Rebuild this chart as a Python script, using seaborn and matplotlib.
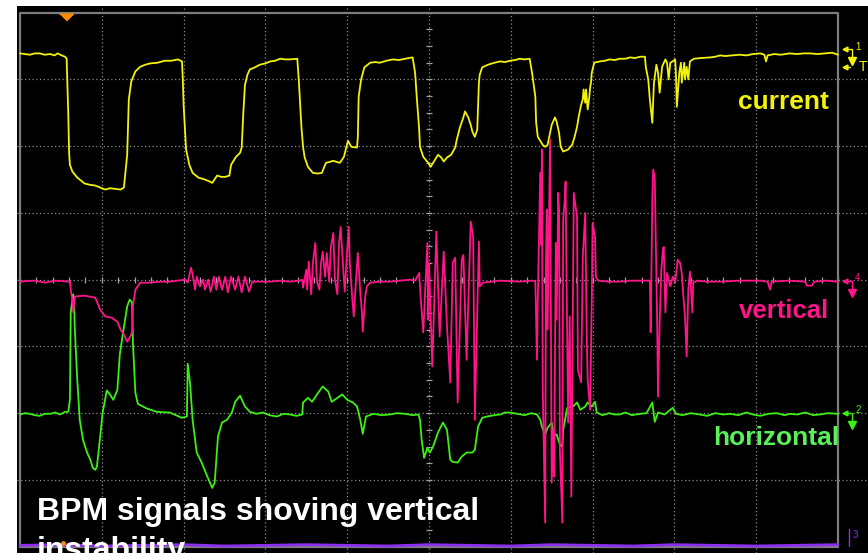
import matplotlib
matplotlib.use('Agg')
import matplotlib.pyplot as plt
import pandas as pd
import seaborn as sns

# scope screen units: time in divisions (0..10), amplitude in divisions (-4..4)

current_t = [0.00, 0.06, 0.12, 0.18, 0.24, 0.30, 0.37, 0.42, 0.46, 0.51, 0.55, 0.57, 0.59, 0.60, 0.61, 0.64,
             0.70, 0.79, 0.86, 0.92, 0.98, 1.04, 1.10, 1.16, 1.23, 1.27, 1.28, 1.31, 1.33, 1.36, 1.41, 1.47,
             1.53, 1.59, 1.68, 1.77, 1.85, 1.93, 1.98, 1.99, 2.00, 2.03, 2.07, 2.11, 2.18, 2.26, 2.32, 2.35,
             2.41, 2.46, 2.51, 2.56, 2.58, 2.64, 2.69, 2.71, 2.73, 2.75, 2.78, 2.81, 2.87, 2.93, 3.00, 3.06,
             3.12, 3.18, 3.24, 3.30, 3.39, 3.41, 3.44, 3.46, 3.48, 3.52, 3.58, 3.64, 3.69, 3.74, 3.83, 3.91,
             3.96, 3.99, 4.01, 4.05, 4.12, 4.13, 4.14, 4.17, 4.21, 4.28, 4.34, 4.40, 4.48, 4.56, 4.63, 4.71,
             4.80, 4.83, 4.85, 4.88, 4.89, 4.93, 4.99, 5.02, 5.09, 5.11, 5.15, 5.18, 5.22, 5.27, 5.32, 5.34,
             5.38, 5.42, 5.44, 5.48, 5.51, 5.53, 5.56, 5.59, 5.60, 5.61, 5.62, 5.65, 5.72, 5.80, 5.87, 5.93,
             5.99, 6.05, 6.11, 6.17, 6.23, 6.26, 6.30, 6.31, 6.33, 6.39, 6.42, 6.45, 6.47, 6.50, 6.54, 6.56,
             6.59, 6.61, 6.64, 6.70, 6.75, 6.78, 6.81, 6.83, 6.86, 6.88, 6.89, 6.91, 6.92, 6.94, 6.96, 6.97,
             6.98, 6.99, 7.02, 7.09, 7.15, 7.21, 7.27, 7.33, 7.40, 7.46, 7.52, 7.58, 7.64, 7.65, 7.68, 7.70,
             7.73, 7.75, 7.78, 7.80, 7.82, 7.85, 7.89, 7.91, 7.93, 7.95, 7.98, 8.01, 8.02, 8.03, 8.06, 8.08,
             8.09, 8.12, 8.13, 8.15, 8.17, 8.19, 8.24, 8.32, 8.44, 8.50, 8.56, 8.62, 8.70, 8.80, 8.88, 8.96,
             9.05, 9.10, 9.12, 9.14, 9.22, 9.30, 9.41, 9.50, 9.58, 9.66, 9.75, 9.84, 9.93, 10.00]
current_v = [3.39, 3.38, 3.37, 3.39, 3.39, 3.37, 3.38, 3.36, 3.39, 3.36, 3.34, 3.31, 2.47, 1.90, 1.72, 1.62,
             1.53, 1.44, 1.42, 1.41, 1.38, 1.35, 1.37, 1.36, 1.35, 1.38, 1.50, 1.87, 2.70, 2.97, 3.12, 3.19,
             3.22, 3.24, 3.25, 3.28, 3.28, 3.30, 3.27, 3.00, 2.62, 1.95, 1.72, 1.60, 1.53, 1.50, 1.47, 1.45,
             1.56, 1.54, 1.54, 1.56, 1.72, 1.84, 1.90, 1.98, 2.50, 2.92, 3.07, 3.15, 3.18, 3.22, 3.24, 3.27,
             3.28, 3.31, 3.30, 3.30, 3.31, 2.95, 2.29, 1.99, 1.83, 1.69, 1.60, 1.59, 1.60, 1.75, 1.78, 1.75,
             1.84, 1.99, 2.08, 1.99, 1.98, 2.14, 2.74, 3.00, 3.18, 3.25, 3.26, 3.25, 3.28, 3.30, 3.29, 3.31,
             3.33, 3.10, 2.74, 2.25, 1.99, 1.84, 1.75, 1.69, 1.83, 1.87, 1.83, 1.77, 1.83, 1.87, 1.98, 2.10,
             2.29, 2.43, 2.52, 2.43, 2.32, 2.22, 2.14, 2.25, 2.59, 2.95, 3.07, 3.18, 3.22, 3.25, 3.27, 3.26,
             3.28, 3.29, 3.31, 3.30, 3.31, 3.10, 2.74, 2.35, 2.14, 2.02, 1.99, 2.02, 2.14, 2.32, 2.43, 2.37,
             2.20, 1.99, 1.92, 1.95, 2.02, 2.14, 2.29, 2.44, 2.62, 2.70, 2.85, 2.65, 2.85, 2.55, 2.74, 2.88,
             2.95, 3.10, 3.25, 3.27, 3.28, 3.30, 3.29, 3.31, 3.31, 3.33, 3.32, 3.34, 3.34, 3.19, 3.00, 2.70,
             2.35, 2.95, 3.22, 3.10, 2.80, 3.19, 3.30, 3.25, 3.00, 3.25, 3.27, 3.30, 3.04, 2.59, 3.10, 3.25,
             2.95, 3.25, 3.00, 3.19, 3.00, 3.27, 3.31, 3.32, 3.33, 3.34, 3.36, 3.35, 3.36, 3.37, 3.36, 3.38,
             3.39, 3.37, 3.27, 3.36, 3.38, 3.37, 3.39, 3.38, 3.39, 3.39, 3.38, 3.39, 3.40, 3.37]

vertical_t = [0.00, 0.09, 0.18, 0.31, 0.43, 0.61, 0.62, 0.64, 0.65, 0.67, 0.68, 0.79, 0.92, 0.98, 1.04, 1.12,
              1.19, 1.23, 1.27, 1.31, 1.34, 1.37, 1.38, 1.41, 1.47, 1.59, 1.71, 1.83, 2.02, 2.05, 2.09, 2.11,
              2.14, 2.16, 2.20, 2.24, 2.26, 2.30, 2.33, 2.37, 2.40, 2.43, 2.47, 2.51, 2.54, 2.58, 2.63, 2.67,
              2.71, 2.75, 2.80, 2.84, 3.06, 3.18, 3.30, 3.42, 3.45, 3.46, 3.50, 3.51, 3.53, 3.56, 3.58, 3.61,
              3.63, 3.66, 3.68, 3.70, 3.73, 3.75, 3.78, 3.80, 3.83, 3.85, 3.88, 3.90, 3.92, 3.95, 3.97, 4.00,
              4.02, 4.03, 4.06, 4.08, 4.11, 4.13, 4.16, 4.18, 4.19, 4.22, 4.24, 4.28, 4.40, 4.52, 4.64, 4.77,
              4.83, 4.88, 4.90, 4.93, 4.98, 4.99, 5.00, 5.04, 5.09, 5.13, 5.18, 5.22, 5.26, 5.29, 5.32, 5.35,
              5.40, 5.42, 5.46, 5.51, 5.54, 5.56, 5.61, 5.62, 5.66, 5.87, 6.11, 6.27, 6.30, 6.31, 6.32, 6.33,
              6.36, 6.37, 6.38, 6.39, 6.42, 6.43, 6.44, 6.45, 6.48, 6.49, 6.50, 6.52, 6.53, 6.55, 6.56, 6.58,
              6.59, 6.60, 6.63, 6.64, 6.66, 6.67, 6.70, 6.72, 6.74, 6.77, 6.81, 6.82, 6.86, 6.88, 6.91, 6.93,
              6.94, 6.97, 6.99, 7.00, 7.03, 7.04, 7.07, 7.20, 7.33, 7.46, 7.58, 7.70, 7.71, 7.73, 7.74, 7.76,
              7.79, 7.80, 7.82, 7.84, 7.86, 7.87, 7.89, 7.91, 7.95, 7.98, 8.01, 8.04, 8.07, 8.09, 8.11, 8.13,
              8.15, 8.17, 8.19, 8.22, 8.23, 8.28, 8.40, 8.56, 8.80, 9.05, 9.14, 9.17, 9.19, 9.40, 9.60, 9.62,
              9.68, 9.71, 9.85, 10.00]
vertical_v = [-0.03, -0.02, -0.015, -0.045, -0.015, -0.03, -0.15, -0.30, -0.49, -0.27, -0.25, -0.24, -0.27,
              -0.45, -0.55, -0.57, -0.63, -0.75, -0.82, -0.93, -0.87, -0.79, -0.40, -0.15, -0.045, -0.045,
              -0.03, -0.03, 0.00, -0.045, 0.18, 0.075, -0.15, 0.045, -0.10, 0.00, -0.15, 0.00, -0.18, 0.045,
              -0.15, 0.045, -0.15, 0.045, -0.19, 0.045, -0.15, 0.045, -0.19, 0.045, -0.18, -0.03, -0.03,
              -0.015, -0.03, -0.015, 0.00, -0.12, 0.15, -0.15, 0.27, -0.22, 0.25, 0.55, -0.03, -0.15, 0.25,
              0.42, 0.045, 0.40, -0.03, 0.49, 0.70, 0.00, -0.22, 0.55, 0.79, 0.19, -0.18, 0.45, 0.79, 0.30,
              -0.25, -0.55, 0.045, 0.40, -0.19, -0.49, -0.78, -0.25, -0.10, -0.045, -0.03, -0.03, -0.015,
              0.00, -0.015, 0.10, -0.30, -0.79, 0.55, -0.60, 0.25, -1.30, 0.72, -0.85, 0.42, -0.70, -1.54,
              0.25, 0.33, -1.84, 0.30, 0.37, -1.20, 0.87, 0.64, -2.10, 0.57, -0.10, -0.045, -0.015, -0.03,
              -0.015, -0.03, -0.64, -1.20, -0.30, 1.60, 0.52, 1.95, -1.60, -3.64, 0.30, 1.05, -0.75, 2.10,
              -0.60, -3.04, -2.25, -2.95, 0.55, -0.60, 1.30, 1.05, -2.55, -3.64, 0.90, 1.20, 1.47, -2.14,
              -0.55, -3.25, 1.30, 0.94, -1.35, -1.54, 0.34, 1.00, -0.94, -1.50, -1.95, -0.30, 0.85, 0.64,
              0.045, -0.015, -0.03, -0.03, -0.015, -0.015, -0.015, -0.79, 1.20, 1.65, 1.53, -0.70, -1.75,
              -0.64, 0.15, 0.45, 0.49, -0.49, 0.10, -0.10, 0.045, -0.045, 0.30, 0.25, 0.10, -0.25, -0.55,
              -1.15, -0.15, 0.12, -0.49, -0.045, -0.015, -0.03, -0.03, -0.015, -0.015, -0.03, -0.15, -0.03,
              -0.015, -0.03, -0.09, -0.09, -0.03, -0.015, -0.03]

horizontal_t = [0.00, 0.06, 0.12, 0.18, 0.24, 0.30, 0.37, 0.43, 0.49, 0.55, 0.59, 0.61, 0.62, 0.65, 0.66, 0.67,
                0.70, 0.73, 0.77, 0.82, 0.86, 0.89, 0.92, 0.94, 0.98, 1.01, 1.04, 1.06, 1.10, 1.14, 1.19, 1.22,
                1.26, 1.31, 1.34, 1.37, 1.38, 1.41, 1.44, 1.55, 1.67, 1.83, 1.98, 2.04, 2.05, 2.08, 2.11, 2.16,
                2.22, 2.29, 2.35, 2.38, 2.42, 2.47, 2.53, 2.59, 2.63, 2.69, 2.75, 2.81, 2.89, 2.97, 3.05, 3.14,
                3.22, 3.30, 3.38, 3.45, 3.46, 3.52, 3.57, 3.63, 3.70, 3.77, 3.81, 3.88, 3.94, 4.00, 4.07, 4.12,
                4.16, 4.19, 4.23, 4.32, 4.42, 4.52, 4.61, 4.71, 4.80, 4.87, 4.89, 4.91, 4.94, 4.98, 5.01, 5.05,
                5.11, 5.17, 5.22, 5.26, 5.29, 5.35, 5.40, 5.46, 5.53, 5.56, 5.60, 5.65, 5.71, 5.80, 5.87, 5.93,
                5.99, 6.08, 6.17, 6.25, 6.32, 6.36, 6.38, 6.42, 6.45, 6.50, 6.52, 6.56, 6.60, 6.63, 6.64, 6.69,
                6.76, 6.81, 6.85, 6.91, 6.94, 6.99, 7.03, 7.05, 7.12, 7.20, 7.27, 7.33, 7.40, 7.48, 7.58, 7.66,
                7.73, 7.76, 7.80, 7.88, 7.98, 8.02, 8.10, 8.20, 8.31, 8.40, 8.50, 8.60, 8.68, 8.78, 8.88, 8.96,
                9.05, 9.15, 9.25, 9.35, 9.41, 9.50, 9.60, 9.70, 9.78, 9.88, 10.00]
horizontal_v = [-2.02, -2.00, -2.01, -2.03, -2.04, -2.01, -2.01, -1.99, -2.02, -1.98, -1.98, -1.80, -0.49,
                -0.22, -0.30, -0.75, -1.50, -2.10, -2.40, -2.59, -2.70, -2.82, -2.85, -2.80, -2.35, -1.99,
                -1.80, -1.66, -1.72, -1.80, -1.65, -1.12, -0.79, -0.40, -0.30, -0.34, -0.94, -1.69, -1.86,
                -1.93, -1.98, -1.99, -2.07, -2.05, -1.26, -1.57, -2.10, -2.59, -2.74, -2.95, -3.12, -3.04,
                -2.35, -2.14, -2.10, -1.99, -1.83, -1.74, -1.90, -1.98, -2.01, -1.99, -2.03, -2.05, -2.01,
                -2.02, -2.04, -2.02, -1.84, -1.77, -1.83, -1.72, -1.60, -1.68, -1.83, -1.77, -1.72, -1.80,
                -1.84, -1.90, -2.10, -2.31, -2.05, -2.01, -2.03, -2.02, -2.00, -2.01, -2.03, -2.02, -2.10,
                -2.40, -2.67, -2.52, -2.59, -2.50, -2.29, -2.14, -2.25, -2.70, -2.73, -2.74, -2.65, -2.59,
                -2.59, -2.55, -2.20, -2.07, -2.05, -2.03, -2.02, -1.99, -1.99, -2.01, -2.03, -2.00, -2.02,
                -2.10, -2.20, -2.32, -2.22, -2.14, -2.32, -2.32, -2.47, -2.50, -2.25, -1.92, -1.90, -1.84,
                -1.95, -1.90, -1.84, -1.90, -1.83, -1.99, -2.03, -2.00, -2.02, -2.02, -1.99, -2.03, -2.01,
                -2.00, -1.84, -2.13, -1.99, -2.02, -1.92, -2.01, -2.03, -2.00, -2.02, -2.04, -2.00, -2.02,
                -2.01, -2.03, -1.99, -2.02, -2.04, -2.01, -2.00, -2.03, -2.01, -2.02, -1.99, -2.03, -2.02,
                -2.00, -2.01]

ch3_t = [0.00, 0.5, 1.0, 1.5, 2.0, 2.5, 3.0, 3.5, 4.0, 4.5, 5.0, 5.5, 6.0, 6.5, 7.0, 7.5, 8.0, 8.5, 9.0,
         9.5, 10.0]
ch3_v = [-3.98, -3.97, -3.99, -3.98, -3.97, -3.99, -3.98, -3.97, -3.98, -3.99, -3.97, -3.98, -3.99, -3.97,
         -3.98, -3.99, -3.97, -3.98, -3.99, -3.98, -3.97]

labels = ['current', 'vertical', 'horizontal']
title_lines = ['BPM signals shoving vertical', 'instability']

yellow = '#f2f20a'
pink = '#ff1489'
green = '#3cf014'
purple = '#8c2ef0'
grid_c = '#8c8c8c'

sns.set_style('dark')
plt.rcParams['font.family'] = ['Liberation Sans', 'DejaVu Sans']

fig = plt.figure(figsize=(8.68, 5.53), dpi=100, facecolor='white')
ax = fig.add_axes([17 / 868, 0, 851 / 868, 547 / 553])
ax.set_facecolor('black')

# graticule
for i in range(1, 10):
    ax.axvline(i, color=grid_c, ls=(0, (1, 2)), lw=0.9, zorder=1)
for j in range(-3, 4):
    ax.axhline(j, color=grid_c, ls=(0, (1, 2)), lw=0.9, zorder=1)
xt = [k * 0.2 for k in range(51)]
yt = [-4 + k * 0.25 for k in range(33)]
ax.vlines(xt, -0.045, 0.045, color='#a0a0a0', lw=0.9, zorder=1)
ax.hlines(yt, 4.96, 5.04, color='#a0a0a0', lw=0.9, zorder=1)
ax.plot([0, 10, 10, 0, 0], [-4, -4, 4, 4, -4], color='#7d7d7d', lw=1.6, zorder=1)

traces = [(ch3_t, ch3_v, purple, 2.0), (horizontal_t, horizontal_v, green, 1.3),
          (current_t, current_v, yellow, 1.3), (vertical_t, vertical_v, pink, 1.3)]
for tt, vv, col, lw in traces:
    df = pd.DataFrame({'t': tt, 'v': vv})
    sns.lineplot(data=df, x='t', y='v', sort=False, estimator=None, color=col, lw=lw, ax=ax, zorder=3)

# channel markers on the right edge
def ch_marker(y, col, num):
    ax.plot([10.07, 10.17, 10.17], [y, y, y - 0.14], color=col, lw=1.0, clip_on=False, zorder=4)
    ax.plot([10.08], [y], marker='<', ms=3.5, color=col, clip_on=False, zorder=4)
    ax.plot([10.17], [y - 0.18], marker='v', ms=6, color=col, clip_on=False, zorder=4)
    ax.text(10.21, y + 0.04, num, color=col, fontsize=7, va='center', ha='left')

ch_marker(3.45, yellow, '1')
ch_marker(-0.02, pink, '4')
ch_marker(-2.0, green, '2')
ax.plot([10.07, 10.15], [3.19, 3.19], color=yellow, lw=1.0, clip_on=False)
ax.plot([10.08], [3.19], marker='<', ms=3.5, color=yellow, clip_on=False)
ax.text(10.26, 3.19, 'T', color=yellow, fontsize=10, va='center', ha='left')
ax.plot([10.13, 10.13], [-3.73, -3.99], color=purple, lw=1.0, clip_on=False)
ax.text(10.18, -3.83, '3', color=purple, fontsize=7, va='center', ha='left')

# trigger position marker
ax.plot([0.56], [3.94], marker=[(-1, 0.5), (1, 0.5), (0, -0.5)], ms=10, color='#ff8c00',
        clip_on=False, zorder=5)
ax.plot([0.53], [-3.94], marker='o', ms=2.5, color='#ff8c00', zorder=5)

# labels
ax.text(9.89, 2.557, labels[0], color=yellow, fontsize=19, fontweight='bold', ha='right', va='baseline')
ax.text(9.89, -0.574, labels[1], color=pink, fontsize=18.5, fontweight='bold', ha='right', va='baseline')
ax.text(10.01, -2.476, labels[2], color='#5af05a', fontsize=19, fontweight='bold', ha='right',
        va='baseline')
ax.text(0.21, -3.60, title_lines[0], color='white', fontsize=23, fontweight='bold', ha='left',
        va='baseline', zorder=6)
ax.text(0.21, -4.19, title_lines[1], color='white', fontsize=23, fontweight='bold', ha='left',
        va='baseline', zorder=6)

ax.set_xlim(-0.037, 10.367)
ax.set_ylim(-4.095, 4.10)
ax.set_xlabel('')
ax.set_ylabel('')
ax.set_xticks([])
ax.set_yticks([])
for s in ax.spines.values():
    s.set_visible(False)
ax.grid(False)
if ax.get_legend() is not None:
    ax.get_legend().remove()

fig.savefig('out.png', dpi=100, facecolor='white')
plt.close(fig)
